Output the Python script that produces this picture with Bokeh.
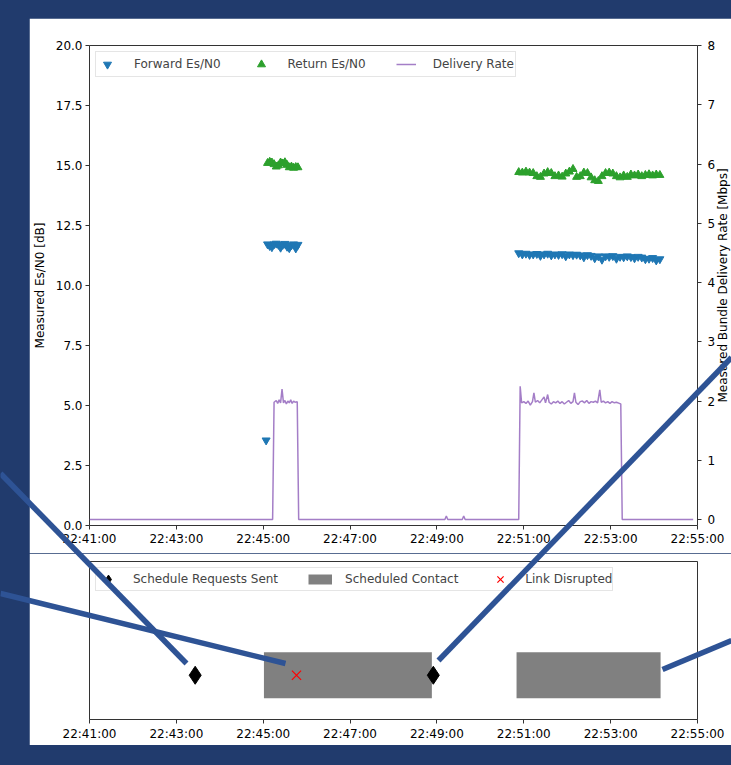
import math
import pandas as pd
from bokeh.plotting import figure
from bokeh.models import (Range1d, LinearAxis, FixedTicker, DatetimeTickFormatter,
                          NumeralTickFormatter, Legend, LegendItem)
from bokeh.core.properties import value
from bokeh.layouts import column, row
from bokeh.embed import file_html
from bokeh.resources import INLINE

DAY = "2020-01-01 "

# ---------------- data ----------------
X_LIMITS = ["22:41:00", "22:55:00"]
TIME_TICKS = ["22:41:00", "22:43:00", "22:45:00", "22:47:00", "22:49:00",
              "22:51:00", "22:53:00", "22:55:00"]
ESN0_TICKS = [0.0, 2.5, 5.0, 7.5, 10.0, 12.5, 15.0, 17.5, 20.0]
RATE_TICKS = [0, 1, 2, 3, 4, 5, 6, 7, 8]

seg2_times = ["22:50:53", "22:50:58", "22:51:03", "22:51:08", "22:51:13", "22:51:18",
              "22:51:23", "22:51:28", "22:51:33", "22:51:38", "22:51:43", "22:51:48",
              "22:51:53", "22:51:58", "22:52:03", "22:52:08", "22:52:13", "22:52:18",
              "22:52:23", "22:52:28", "22:52:33", "22:52:38", "22:52:43", "22:52:48",
              "22:52:53", "22:52:58", "22:53:03", "22:53:08", "22:53:13", "22:53:18",
              "22:53:23", "22:53:28", "22:53:33", "22:53:38", "22:53:43", "22:53:48",
              "22:53:53", "22:53:58", "22:54:03", "22:54:08"]
seg1_times = ["22:45:06", "22:45:09", "22:45:12", "22:45:15", "22:45:18", "22:45:21",
              "22:45:24", "22:45:27", "22:45:30", "22:45:33", "22:45:36", "22:45:39",
              "22:45:42", "22:45:45", "22:45:48"]

fwd_times = ["22:45:04"] + seg1_times + seg2_times
fwd_esn0 = ([3.55] +
            [11.72, 11.65, 11.60, 11.72, 11.75, 11.70, 11.58, 11.70, 11.74, 11.62,
             11.56, 11.68, 11.72, 11.55, 11.70] +
            [11.35, 11.30, 11.33, 11.28, 11.30, 11.32, 11.24, 11.30, 11.33, 11.26,
             11.30, 11.28, 11.31, 11.22, 11.30, 11.27, 11.29, 11.26, 11.18, 11.27,
             11.24, 11.14, 11.22, 11.08, 11.22, 11.20, 11.23, 11.12, 11.20, 11.18,
             11.22, 11.19, 11.14, 11.20, 11.17, 11.10, 11.12, 11.15, 11.05, 11.10])

ret_times = seg1_times + seg2_times
ret_esn0 = ([15.10, 15.15, 15.12, 15.05, 14.95, 15.00, 15.12, 15.08, 15.13, 15.02,
             14.92, 14.95, 14.90, 14.93, 14.92] +
            [14.72, 14.70, 14.74, 14.70, 14.68, 14.55, 14.52, 14.66, 14.72, 14.68,
             14.55, 14.58, 14.53, 14.66, 14.74, 14.85, 14.52, 14.55, 14.70, 14.68,
             14.50, 14.38, 14.35, 14.55, 14.68, 14.70, 14.66, 14.55, 14.50, 14.58,
             14.52, 14.62, 14.58, 14.62, 14.55, 14.60, 14.63, 14.58, 14.62, 14.60])

rate_times = ["22:41:00", "22:45:13", "22:45:15", "22:45:18", "22:45:20", "22:45:22",
              "22:45:24", "22:45:26", "22:45:28", "22:45:30", "22:45:32", "22:45:34",
              "22:45:36", "22:45:38", "22:45:40", "22:45:42", "22:45:44", "22:45:47",
              "22:45:49", "22:49:11", "22:49:13", "22:49:15", "22:49:35", "22:49:37",
              "22:49:39", "22:50:53", "22:50:55", "22:50:57", "22:51:00", "22:51:03",
              "22:51:06", "22:51:09", "22:51:12", "22:51:14", "22:51:16", "22:51:19",
              "22:51:22", "22:51:25", "22:51:28", "22:51:30", "22:51:33", "22:51:35",
              "22:51:38", "22:51:41", "22:51:44", "22:51:47", "22:51:50", "22:51:53",
              "22:51:56", "22:51:59", "22:52:02", "22:52:05", "22:52:08", "22:52:10",
              "22:52:12", "22:52:15", "22:52:18", "22:52:21", "22:52:24", "22:52:27",
              "22:52:30", "22:52:33", "22:52:36", "22:52:39", "22:52:42", "22:52:45",
              "22:52:47", "22:52:50", "22:52:53", "22:52:56", "22:52:59", "22:53:02",
              "22:53:05", "22:53:08", "22:53:12", "22:53:14", "22:53:16", "22:54:54"]
rate_mbps = [0.0, 0.0, 1.98, 2.01, 1.96, 2.02, 1.97, 2.20, 1.97, 2.01, 1.95, 2.00,
             1.97, 2.02, 1.96, 2.00, 1.98, 1.99, 0.0, 0.0, 0.06, 0.0, 0.0, 0.06,
             0.0, 0.0, 2.25, 1.97, 1.99, 1.96, 2.00, 1.93, 1.99, 2.14, 1.98, 2.01,
             1.97, 2.02, 2.07, 1.97, 2.11, 1.98, 1.95, 1.99, 1.97, 2.00, 1.96, 1.99,
             1.95, 1.98, 2.01, 1.96, 1.99, 2.14, 1.98, 1.94, 1.99, 2.00, 1.97, 2.01,
             1.96, 1.99, 1.98, 2.00, 1.97, 2.19, 1.98, 2.00, 1.97, 1.99, 1.96, 1.99,
             1.97, 1.98, 1.96, 1.95, 0.0, 0.0]

requests_sent = ["22:43:26", "22:48:55"]
contact_start = ["22:45:01", "22:50:50"]
contact_end = ["22:48:53", "22:54:09"]
link_disrupted = ["22:45:46"]

RATE_AXIS_TITLE = "Measured Bundle Delivery Rate [Mbps]"

# ---------------- styling constants ----------------
BG = "#213b6d"
FONT = "DejaVu Sans"
FS = "12px"
CALLOUT_COLOR = "#2E5395"
ROW_Y, ROW_HALF = 0.28, 0.145
EVENT_Y_RANGE = (0.0, 1.0)
RATE_RANGE = (-0.1, 8.0)
PAGE_W, PAGE_H = 731, 765


def ts(s):
    return pd.Timestamp(DAY + s)


def ms(s):
    return ts(s).value / 1e6


x_range = Range1d(ts(X_LIMITS[0]), ts(X_LIMITS[1]))
time_fmt = DatetimeTickFormatter(seconds="%H:%M:%S", minsec="%H:%M:%S", minutes="%H:%M:%S",
                                 hourmin="%H:%M:%S", hours="%H:%M:%S")


def style_axis(ax, standoff=3):
    ax.axis_line_color = None
    ax.major_tick_line_color = "#333333"
    ax.major_tick_out = 4
    ax.major_tick_in = 0
    ax.minor_tick_line_color = None
    ax.major_label_text_font = FONT
    ax.major_label_text_font_size = FS
    ax.major_label_text_color = "black"
    ax.major_label_standoff = standoff
    ax.axis_label_text_font = FONT
    ax.axis_label_text_font_size = FS
    ax.axis_label_text_font_style = "normal"
    ax.axis_label_text_color = "black"


def style_legend(lg):
    lg.orientation = "horizontal"
    lg.location = "top_left"
    lg.margin = 6
    lg.padding = 1
    lg.glyph_width = 20
    lg.glyph_height = 22
    lg.label_height = 14
    lg.label_standoff = 17
    lg.spacing = 30
    lg.label_text_font = FONT
    lg.label_text_font_size = FS
    lg.border_line_color = "#cccccc"
    lg.border_line_width = 1
    lg.background_fill_alpha = 0.8


# ---------------- top figure ----------------
p1 = figure(width=702, height=535, x_range=x_range, y_range=Range1d(0, 20),
            x_axis_type="datetime", output_backend="svg", toolbar_location=None,
            min_border_left=59, min_border_right=34, min_border_top=27, min_border_bottom=28,
            margin=(18, 0, 0, 29), border_fill_color="white", background_fill_color="white",
            outline_line_color="#333333", outline_line_width=1)
p1.grid.visible = False
p1.extra_y_ranges = {"rate": Range1d(*RATE_RANGE)}

r_fwd = p1.scatter([ts(s) for s in fwd_times], fwd_esn0, marker="inverted_triangle",
                   size=8, color="#1f77b4")
r_ret = p1.scatter([ts(s) for s in ret_times], ret_esn0, marker="triangle",
                   size=8, color="#2ca02c")
r_rate = p1.line([ts(s) for s in rate_times], rate_mbps, y_range_name="rate",
                 color="#9467bd", line_width=1.5, line_alpha=0.85)

xa = p1.xaxis[0]
xa.ticker = FixedTicker(ticks=[ms(s) for s in TIME_TICKS])
xa.formatter = time_fmt
style_axis(xa, standoff=2)

ya = p1.yaxis[0]
ya.ticker = FixedTicker(ticks=ESN0_TICKS)
ya.formatter = NumeralTickFormatter(format="0.0")
ya.axis_label = "Measured Es/N0 [dB]"
style_axis(ya)
ya.axis_label_standoff = 6

ra = LinearAxis(y_range_name="rate", ticker=FixedTicker(ticks=RATE_TICKS))
style_axis(ra, standoff=6)
p1.add_layout(ra, "right")

lg1 = Legend(items=[LegendItem(label="Forward Es/N0", renderers=[r_fwd]),
                    LegendItem(label="Return Es/N0", renderers=[r_ret]),
                    LegendItem(label="Delivery Rate", renderers=[r_rate])])
style_legend(lg1)
p1.add_layout(lg1)

# ---------------- bottom figure ----------------
p2 = figure(width=702, height=192, x_range=x_range, y_range=Range1d(*EVENT_Y_RANGE),
            x_axis_type="datetime", y_axis_location=None, output_backend="svg",
            toolbar_location=None, min_border_left=59, min_border_right=34,
            min_border_top=8, min_border_bottom=26, margin=(0, 0, 20, 29),
            border_fill_color="white", background_fill_color="white",
            outline_line_color="#333333", outline_line_width=1)
p2.grid.visible = False

r_contact = p2.quad(left=[ts(s) for s in contact_start], right=[ts(s) for s in contact_end],
                    bottom=ROW_Y - ROW_HALF, top=ROW_Y + ROW_HALF,
                    fill_color="#808080", line_color=None)
r_req = p2.scatter([ts(s) for s in requests_sent], [ROW_Y] * len(requests_sent),
                   marker="diamond", size=18, color="black")
r_dis = p2.scatter([ts(s) for s in link_disrupted], [ROW_Y] * len(link_disrupted),
                   marker="x", size=13, color="#ff0000", line_width=1.2)
# legend key for the contact patch (drawn below the visible y range)
r_contact_key = p2.line(x=[ts(s) for s in contact_start], y=[EVENT_Y_RANGE[0] - 1] * 2,
                        line_color="#808080", line_width=10)

xb = p2.xaxis[0]
xb.ticker = FixedTicker(ticks=[ms(s) for s in TIME_TICKS])
xb.formatter = time_fmt
style_axis(xb, standoff=3)

lg2 = Legend(items=[LegendItem(label="Schedule Requests Sent", renderers=[r_req]),
                    LegendItem(label="Scheduled Contact", renderers=[r_contact_key]),
                    LegendItem(label="Link Disrupted", renderers=[r_dis])])
style_legend(lg2)
lg2.glyph_height = 22
lg2.glyph_width = 24
lg2.label_standoff = 13
lg2.padding = 0
p2.add_layout(lg2)

# ---------------- transparent page overlay: right-axis title + slide call-out lines ----------------
CALLOUT_X0 = [0, 0, 438, 662]
CALLOUT_Y0 = [473, 593, 660, 669]
CALLOUT_X1 = [186, 285, 731, 731]
CALLOUT_Y1 = [663, 663, 357, 640]
RATE_TITLE_POS = (722, 285)

p3 = figure(width=PAGE_W, height=PAGE_H, x_range=Range1d(0, PAGE_W), y_range=Range1d(PAGE_H, 0),
            x_axis_location=None, y_axis_location=None, output_backend="svg",
            toolbar_location=None, min_border=0,
            background_fill_color=None, border_fill_color=None, outline_line_color=None)
p3.grid.visible = False
p3.text(x=[RATE_TITLE_POS[0]], y=[RATE_TITLE_POS[1]], text=[RATE_AXIS_TITLE],
        angle=math.pi / 2, text_align="center", text_baseline="middle",
        text_font=value(FONT), text_font_size=FS, text_color="black")
p3.segment(CALLOUT_X0, CALLOUT_Y0, CALLOUT_X1, CALLOUT_Y1,
           line_color=CALLOUT_COLOR, line_width=5.5)

charts = column(p1, p2, width=PAGE_W, height=PAGE_H, spacing=0)
overlay = row(p3, width=PAGE_W, height=PAGE_H, margin=(-PAGE_H, 0, 0, 0))
layout = column(charts, overlay, width=PAGE_W, height=PAGE_H, spacing=0,
                styles={"background-color": BG})

open("out.html", "w").write(file_html(layout, INLINE))
